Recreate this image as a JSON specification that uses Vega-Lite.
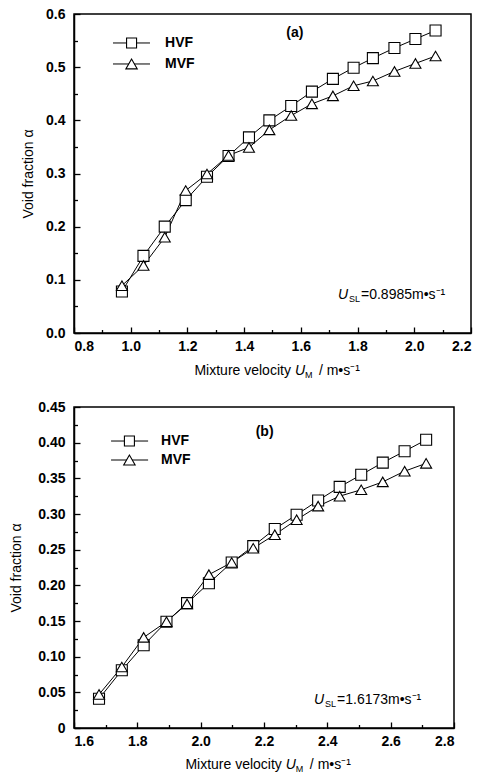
{
  "$schema": "https://vega.github.io/schema/vega-lite/v6.json",
  "background": "white",
  "padding": {"left": 9, "top": 6, "right": 5, "bottom": 5},
  "columns": 1,
  "align": "none",
  "spacing": 18,
  "config": {
    "view": {"stroke": "black", "strokeWidth": 1.5},
    "axis": {"domainColor": "black", "domainWidth": 1.5, "tickColor": "black", "tickWidth": 1.3, "tickSize": -6, "labelFont": "Liberation Sans", "labelFontSize": 14, "labelFontWeight": "bold", "labelColor": "black", "titleFont": "Liberation Sans", "titleFontSize": 14, "titleFontWeight": "normal", "titleColor": "black", "grid": false},
    "text": {"font": "Liberation Sans", "fontSize": 14, "fill": "black"}
  },
  "datasets": {
    "a": [
      {"x": 0.969, "y": 0.078, "series": "HVF"}, {"x": 1.045, "y": 0.145, "series": "HVF"}, {"x": 1.12, "y": 0.2, "series": "HVF"}, {"x": 1.194, "y": 0.25, "series": "HVF"},
      {"x": 1.269, "y": 0.294, "series": "HVF"}, {"x": 1.345, "y": 0.333, "series": "HVF"}, {"x": 1.417, "y": 0.368, "series": "HVF"}, {"x": 1.489, "y": 0.4, "series": "HVF"},
      {"x": 1.566, "y": 0.427, "series": "HVF"}, {"x": 1.639, "y": 0.454, "series": "HVF"}, {"x": 1.713, "y": 0.478, "series": "HVF"}, {"x": 1.786, "y": 0.499, "series": "HVF"},
      {"x": 1.854, "y": 0.517, "series": "HVF"}, {"x": 1.93, "y": 0.536, "series": "HVF"}, {"x": 2.004, "y": 0.553, "series": "HVF"}, {"x": 2.075, "y": 0.569, "series": "HVF"},
      {"x": 0.969, "y": 0.089, "series": "MVF"}, {"x": 1.045, "y": 0.127, "series": "MVF"}, {"x": 1.12, "y": 0.18, "series": "MVF"}, {"x": 1.194, "y": 0.268, "series": "MVF"},
      {"x": 1.269, "y": 0.299, "series": "MVF"}, {"x": 1.345, "y": 0.334, "series": "MVF"}, {"x": 1.417, "y": 0.349, "series": "MVF"}, {"x": 1.489, "y": 0.382, "series": "MVF"},
      {"x": 1.566, "y": 0.409, "series": "MVF"}, {"x": 1.639, "y": 0.431, "series": "MVF"}, {"x": 1.713, "y": 0.446, "series": "MVF"}, {"x": 1.786, "y": 0.465, "series": "MVF"},
      {"x": 1.854, "y": 0.474, "series": "MVF"}, {"x": 1.93, "y": 0.492, "series": "MVF"}, {"x": 2.004, "y": 0.507, "series": "MVF"}, {"x": 2.075, "y": 0.521, "series": "MVF"}
    ],
    "b": [
      {"x": 1.679, "y": 0.041, "series": "HVF"}, {"x": 1.751, "y": 0.081, "series": "HVF"}, {"x": 1.82, "y": 0.116, "series": "HVF"}, {"x": 1.892, "y": 0.149, "series": "HVF"},
      {"x": 1.957, "y": 0.175, "series": "HVF"}, {"x": 2.026, "y": 0.203, "series": "HVF"}, {"x": 2.098, "y": 0.232, "series": "HVF"}, {"x": 2.166, "y": 0.255, "series": "HVF"},
      {"x": 2.234, "y": 0.279, "series": "HVF"}, {"x": 2.303, "y": 0.299, "series": "HVF"}, {"x": 2.371, "y": 0.319, "series": "HVF"}, {"x": 2.439, "y": 0.338, "series": "HVF"},
      {"x": 2.507, "y": 0.355, "series": "HVF"}, {"x": 2.575, "y": 0.372, "series": "HVF"}, {"x": 2.644, "y": 0.388, "series": "HVF"}, {"x": 2.712, "y": 0.404, "series": "HVF"},
      {"x": 1.679, "y": 0.047, "series": "MVF"}, {"x": 1.751, "y": 0.0855, "series": "MVF"}, {"x": 1.82, "y": 0.127, "series": "MVF"}, {"x": 1.892, "y": 0.149, "series": "MVF"},
      {"x": 1.957, "y": 0.174, "series": "MVF"}, {"x": 2.026, "y": 0.215, "series": "MVF"}, {"x": 2.098, "y": 0.232, "series": "MVF"}, {"x": 2.166, "y": 0.252, "series": "MVF"},
      {"x": 2.234, "y": 0.271, "series": "MVF"}, {"x": 2.303, "y": 0.292, "series": "MVF"}, {"x": 2.371, "y": 0.311, "series": "MVF"}, {"x": 2.439, "y": 0.325, "series": "MVF"},
      {"x": 2.507, "y": 0.334, "series": "MVF"}, {"x": 2.575, "y": 0.345, "series": "MVF"}, {"x": 2.644, "y": 0.36, "series": "MVF"}, {"x": 2.712, "y": 0.371, "series": "MVF"}
    ]
  },
  "concat": [
    {
      "width": 397,
      "height": 319,
      "layer": [
        {"data": {"name": "a"}, "mark": {"type": "line", "color": "black", "strokeWidth": 1},
          "encoding": {
            "x": {"field": "x", "type": "quantitative", "scale": {"domain": [0.8, 2.2], "nice": false, "zero": false},
              "axis": {"title": null, "values": [0.8, 0.9, 1.0, 1.1, 1.2, 1.3, 1.4, 1.5, 1.6, 1.7, 1.8, 1.9, 2.0, 2.1, 2.2], "tickCount": 100, "labelOverlap": false,
                "labelExpr": "round(datum.value*10) % 2 === 0 ? format(datum.value, '.1f') : ''",
                "tickDash": {"condition": {"test": "round(datum.value*10) % 2 === 0", "value": [20, 1]}, "value": [3.5, 20]},
                "labelPadding": 12}},
            "y": {"field": "y", "type": "quantitative", "scale": {"domain": [0, 0.6], "nice": false},
              "axis": {"title": "Void fraction α", "values": [0, 0.05, 0.1, 0.15, 0.2, 0.25, 0.3, 0.35, 0.4, 0.45, 0.5, 0.55, 0.6], "tickCount": 100, "labelOverlap": false,
                "labelExpr": "round(datum.value*20) % 2 === 0 ? format(datum.value, '.1f') : ''",
                "tickDash": {"condition": {"test": "round(datum.value*20) % 2 === 0", "value": [20, 1]}, "value": [3.5, 20]},
                "labelPadding": 15, "titlePadding": 10}},
            "detail": {"field": "series"}}},
        {"data": {"name": "a"}, "mark": {"type": "point", "filled": true, "fill": "white", "stroke": "black", "strokeWidth": 1.1, "opacity": 1, "size": 121},
          "encoding": {
            "x": {"field": "x", "type": "quantitative"},
            "y": {"field": "y", "type": "quantitative"},
            "shape": {"field": "series", "type": "nominal", "scale": {"domain": ["HVF", "MVF"], "range": ["square", "triangle-up"]}, "legend": null}}},
        {"data": {"values": [{"t": "(a)"}]}, "mark": {"type": "text", "fontWeight": "bold", "align": "center", "baseline": "middle", "fill": "black"},
          "encoding": {"text": {"field": "t"}, "x": {"datum": 1.579, "type": "quantitative"}, "y": {"datum": 0.564, "type": "quantitative"}}},
        {"data": {"values": [{"t": "U"}]}, "mark": {"type": "text", "fontStyle": "italic", "align": "left", "baseline": "alphabetic", "fill": "black"},
          "encoding": {"text": {"field": "t"}, "x": {"datum": 1.731, "type": "quantitative"}, "y": {"datum": 0.064, "type": "quantitative"}}},
        {"data": {"values": [{"t": "SL"}]}, "mark": {"type": "text", "fontSize": 9, "align": "left", "baseline": "alphabetic", "dx": 11, "dy": 3, "fill": "black"},
          "encoding": {"text": {"field": "t"}, "x": {"datum": 1.731, "type": "quantitative"}, "y": {"datum": 0.064, "type": "quantitative"}}},
        {"data": {"values": [{"t": "=0.8985m•s⁻¹"}]}, "mark": {"type": "text", "align": "left", "baseline": "alphabetic", "dx": 23, "fill": "black"},
          "encoding": {"text": {"field": "t"}, "x": {"datum": 1.731, "type": "quantitative"}, "y": {"datum": 0.064, "type": "quantitative"}}},
        {"data": {"values": [{"t": "Mixture velocity"}]}, "mark": {"type": "text", "align": "right", "baseline": "alphabetic", "dx": -4, "dy": 42, "fill": "black"},
          "encoding": {"text": {"field": "t"}, "x": {"datum": 1.579, "type": "quantitative"}, "y": {"datum": 0, "type": "quantitative"}}},
        {"data": {"values": [{"t": "U"}]}, "mark": {"type": "text", "fontStyle": "italic", "align": "left", "baseline": "alphabetic", "dy": 42, "fill": "black"},
          "encoding": {"text": {"field": "t"}, "x": {"datum": 1.579, "type": "quantitative"}, "y": {"datum": 0, "type": "quantitative"}}},
        {"data": {"values": [{"t": "M"}]}, "mark": {"type": "text", "fontSize": 9, "align": "left", "baseline": "alphabetic", "dx": 10, "dy": 45, "fill": "black"},
          "encoding": {"text": {"field": "t"}, "x": {"datum": 1.579, "type": "quantitative"}, "y": {"datum": 0, "type": "quantitative"}}},
        {"data": {"values": [{"t": "/ m•s⁻¹"}]}, "mark": {"type": "text", "align": "left", "baseline": "alphabetic", "dx": 24, "dy": 42, "fill": "black"},
          "encoding": {"text": {"field": "t"}, "x": {"datum": 1.579, "type": "quantitative"}, "y": {"datum": 0, "type": "quantitative"}}},
        {"data": {"values": [{}]}, "mark": {"type": "rule", "color": "black", "strokeWidth": 1},
          "encoding": {"x": {"datum": 0.9375, "type": "quantitative"}, "x2": {"datum": 1.068}, "y": {"datum": 0.5455, "type": "quantitative"}}},
        {"data": {"values": [{}]}, "mark": {"type": "rule", "color": "black", "strokeWidth": 1},
          "encoding": {"x": {"datum": 0.9375, "type": "quantitative"}, "x2": {"datum": 1.068}, "y": {"datum": 0.506, "type": "quantitative"}}},
        {"data": {"values": [{}]}, "mark": {"type": "point", "shape": "square", "filled": true, "fill": "white", "stroke": "black", "strokeWidth": 1.1, "opacity": 1, "size": 100},
          "encoding": {"x": {"datum": 1.003, "type": "quantitative"}, "y": {"datum": 0.5455, "type": "quantitative"}}},
        {"data": {"values": [{}]}, "mark": {"type": "point", "shape": "triangle-up", "filled": true, "fill": "white", "stroke": "black", "strokeWidth": 1.1, "opacity": 1, "size": 130},
          "encoding": {"x": {"datum": 1.003, "type": "quantitative"}, "y": {"datum": 0.506, "type": "quantitative"}}},
        {"data": {"values": [{"t": "HVF"}]}, "mark": {"type": "text", "fontWeight": "bold", "align": "left", "baseline": "middle", "fill": "black"},
          "encoding": {"text": {"field": "t"}, "x": {"datum": 1.121, "type": "quantitative"}, "y": {"datum": 0.5455, "type": "quantitative"}}},
        {"data": {"values": [{"t": "MVF"}]}, "mark": {"type": "text", "fontWeight": "bold", "align": "left", "baseline": "middle", "fill": "black"},
          "encoding": {"text": {"field": "t"}, "x": {"datum": 1.121, "type": "quantitative"}, "y": {"datum": 0.506, "type": "quantitative"}}}
      ]
    },
    {
      "width": 380,
      "height": 321,
      "layer": [
        {"data": {"name": "b"}, "mark": {"type": "line", "color": "black", "strokeWidth": 1},
          "encoding": {
            "x": {"field": "x", "type": "quantitative", "scale": {"domain": [1.6, 2.8], "nice": false, "zero": false},
              "axis": {"title": null, "values": [1.6, 1.7, 1.8, 1.9, 2.0, 2.1, 2.2, 2.3, 2.4, 2.5, 2.6, 2.7, 2.8], "tickCount": 100, "labelOverlap": false,
                "labelExpr": "round(datum.value*10) % 2 === 0 ? format(datum.value, '.1f') : ''",
                "tickDash": {"condition": {"test": "round(datum.value*10) % 2 === 0", "value": [20, 1]}, "value": [3.5, 20]},
                "labelPadding": 12}},
            "y": {"field": "y", "type": "quantitative", "scale": {"domain": [0, 0.45], "nice": false},
              "axis": {"title": "Void fraction α", "values": [0, 0.025, 0.05, 0.075, 0.1, 0.125, 0.15, 0.175, 0.2, 0.225, 0.25, 0.275, 0.3, 0.325, 0.35, 0.375, 0.4, 0.425, 0.45], "tickCount": 100, "labelOverlap": false,
                "labelExpr": "round(datum.value*40) % 2 === 0 ? (datum.value === 0 ? '0' : format(datum.value, '.2f')) : ''",
                "tickDash": {"condition": {"test": "round(datum.value*40) % 2 === 0", "value": [20, 1]}, "value": [3.5, 20]},
                "labelPadding": 15, "titlePadding": 14}},
            "detail": {"field": "series"}}},
        {"data": {"name": "b"}, "mark": {"type": "point", "filled": true, "fill": "white", "stroke": "black", "strokeWidth": 1.1, "opacity": 1, "size": 121},
          "encoding": {
            "x": {"field": "x", "type": "quantitative"},
            "y": {"field": "y", "type": "quantitative"},
            "shape": {"field": "series", "type": "nominal", "scale": {"domain": ["HVF", "MVF"], "range": ["square", "triangle-up"]}, "legend": null}}},
        {"data": {"values": [{"t": "(b)"}]}, "mark": {"type": "text", "fontWeight": "bold", "align": "center", "baseline": "middle", "fill": "black"},
          "encoding": {"text": {"field": "t"}, "x": {"datum": 2.202, "type": "quantitative"}, "y": {"datum": 0.415, "type": "quantitative"}}},
        {"data": {"values": [{"t": "U"}]}, "mark": {"type": "text", "fontStyle": "italic", "align": "left", "baseline": "alphabetic", "fill": "black"},
          "encoding": {"text": {"field": "t"}, "x": {"datum": 2.358, "type": "quantitative"}, "y": {"datum": 0.034, "type": "quantitative"}}},
        {"data": {"values": [{"t": "SL"}]}, "mark": {"type": "text", "fontSize": 9, "align": "left", "baseline": "alphabetic", "dx": 11, "dy": 3, "fill": "black"},
          "encoding": {"text": {"field": "t"}, "x": {"datum": 2.358, "type": "quantitative"}, "y": {"datum": 0.034, "type": "quantitative"}}},
        {"data": {"values": [{"t": "=1.6173m•s⁻¹"}]}, "mark": {"type": "text", "align": "left", "baseline": "alphabetic", "dx": 23, "fill": "black"},
          "encoding": {"text": {"field": "t"}, "x": {"datum": 2.358, "type": "quantitative"}, "y": {"datum": 0.034, "type": "quantitative"}}},
        {"data": {"values": [{"t": "Mixture velocity"}]}, "mark": {"type": "text", "align": "right", "baseline": "alphabetic", "dx": -4, "dy": 41, "fill": "black"},
          "encoding": {"text": {"field": "t"}, "x": {"datum": 2.269, "type": "quantitative"}, "y": {"datum": 0, "type": "quantitative"}}},
        {"data": {"values": [{"t": "U"}]}, "mark": {"type": "text", "fontStyle": "italic", "align": "left", "baseline": "alphabetic", "dy": 41, "fill": "black"},
          "encoding": {"text": {"field": "t"}, "x": {"datum": 2.269, "type": "quantitative"}, "y": {"datum": 0, "type": "quantitative"}}},
        {"data": {"values": [{"t": "M"}]}, "mark": {"type": "text", "fontSize": 9, "align": "left", "baseline": "alphabetic", "dx": 10, "dy": 44, "fill": "black"},
          "encoding": {"text": {"field": "t"}, "x": {"datum": 2.269, "type": "quantitative"}, "y": {"datum": 0, "type": "quantitative"}}},
        {"data": {"values": [{"t": "/ m•s⁻¹"}]}, "mark": {"type": "text", "align": "left", "baseline": "alphabetic", "dx": 24, "dy": 41, "fill": "black"},
          "encoding": {"text": {"field": "t"}, "x": {"datum": 2.269, "type": "quantitative"}, "y": {"datum": 0, "type": "quantitative"}}},
        {"data": {"values": [{}]}, "mark": {"type": "rule", "color": "black", "strokeWidth": 1},
          "encoding": {"x": {"datum": 1.717, "type": "quantitative"}, "x2": {"datum": 1.834}, "y": {"datum": 0.4023, "type": "quantitative"}}},
        {"data": {"values": [{}]}, "mark": {"type": "rule", "color": "black", "strokeWidth": 1},
          "encoding": {"x": {"datum": 1.717, "type": "quantitative"}, "x2": {"datum": 1.834}, "y": {"datum": 0.3757, "type": "quantitative"}}},
        {"data": {"values": [{}]}, "mark": {"type": "point", "shape": "square", "filled": true, "fill": "white", "stroke": "black", "strokeWidth": 1.1, "opacity": 1, "size": 100},
          "encoding": {"x": {"datum": 1.775, "type": "quantitative"}, "y": {"datum": 0.4023, "type": "quantitative"}}},
        {"data": {"values": [{}]}, "mark": {"type": "point", "shape": "triangle-up", "filled": true, "fill": "white", "stroke": "black", "strokeWidth": 1.1, "opacity": 1, "size": 130},
          "encoding": {"x": {"datum": 1.775, "type": "quantitative"}, "y": {"datum": 0.3757, "type": "quantitative"}}},
        {"data": {"values": [{"t": "HVF"}]}, "mark": {"type": "text", "fontWeight": "bold", "align": "left", "baseline": "middle", "fill": "black"},
          "encoding": {"text": {"field": "t"}, "x": {"datum": 1.875, "type": "quantitative"}, "y": {"datum": 0.4023, "type": "quantitative"}}},
        {"data": {"values": [{"t": "MVF"}]}, "mark": {"type": "text", "fontWeight": "bold", "align": "left", "baseline": "middle", "fill": "black"},
          "encoding": {"text": {"field": "t"}, "x": {"datum": 1.875, "type": "quantitative"}, "y": {"datum": 0.3757, "type": "quantitative"}}}
      ]
    }
  ]
}
